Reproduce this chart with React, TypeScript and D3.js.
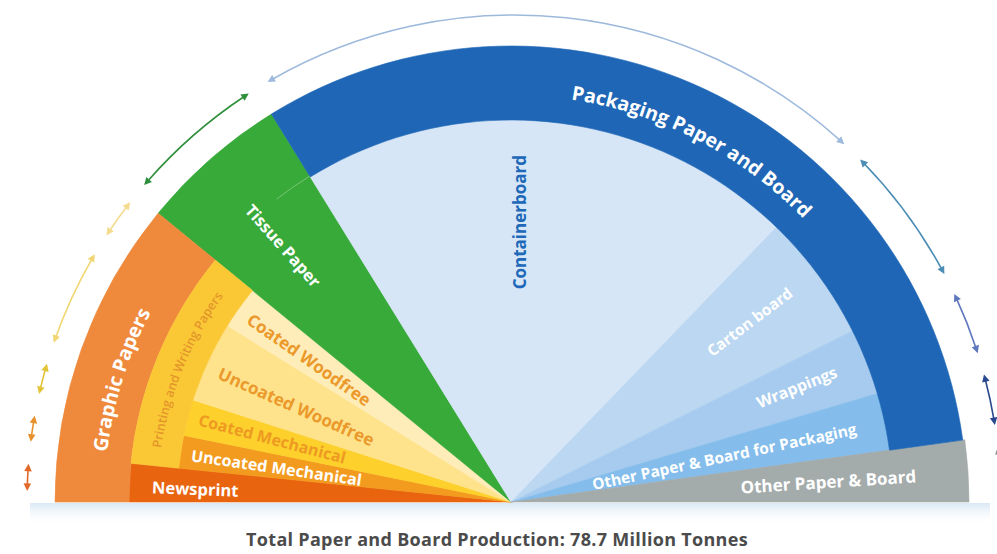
import React from 'react';
import * as d3 from 'd3';

// ---------- data ----------
const leafNames = [
  'Newsprint',
  'Uncoated Mechanical',
  'Coated Mechanical',
  'Uncoated Woodfree',
  'Coated Woodfree',
  'Tissue Paper',
  'Containerboard',
  'Carton board',
  'Wrappings',
  'Other Paper & Board for Packaging',
  'Other Paper & Board',
];
// million tonnes (total 78.7)
const leafValues = [2.54, 2.49, 2.75, 6.16, 3.24, 8.31, 33.1, 8.48, 4.42, 3.8, 3.41];

const groupNames = ['Graphic Papers', 'Printing and Writing Papers', 'Packaging Paper and Board'];
const groupMembers = [
  [0, 1, 2, 3, 4],
  [1, 2, 3, 4],
  [6, 7, 8, 9],
];
const titleText = 'Total Paper and Board Production: 78.7 Million Tonnes';

// ---------- styles ----------
const leafColors = ['#e9640f', '#f39b1f', '#fdd02c', '#fee38c', '#feecb9', '#38aa3a', '#d6e6f6', '#bbd7f1', '#a7cbee', '#84bdeb', '#a4abab'];
const leafOuter = [382, 334, 334, 334, 334, 456, 382, 382, 382, 382, 458];
const leafLabelColors = ['#ffffff', '#ffffff', '#ee9a22', '#eb992b', '#eb992b', '#ffffff', '#2068b8', '#ffffff', '#ffffff', '#ffffff', '#ffffff'];
const leafLabelSize = [16.5, 16, 16, 17, 17, 16.5, 17, 15.5, 16, 15.5, 17];
const leafLabelR = [316, 237, 247, 235, 247, 343, 280, 299, 308, 218, 318];
const leafLabelDTheta = [-0.6, -0.4, 0.1, -1, -0.5, -0.5, 0, -0.7, -0.3, 0.2, 0.3];
const arrowColors = ['#e2692a', '#e8902c', '#e3c338', '#f1d672', '#f3dc8e', '#2f8f3c', '#9db9dc', '#4c8db5', '#5f78bd', '#27478f', '#8e9696'];
const groupColors = ['#ef8a3d', '#fbc835', '#1f67b6'];
const groupInner = [382, 334, 382];
const groupOuter = [456, 382, 456];
const groupTextR = [407, 354, 407];
const groupTextSize = [19.5, 12.5, 19.5];
const groupTextColor = ['#ffffff', '#e3962a', '#ffffff'];

const FONT = '"Open Sans", Lato, sans-serif';

export default function App() {
  const W = 997;
  const H = 554;
  const cx = 511;
  const cy = 502;
  const cxA = 514;
  const RA = 487;

  const total = d3.sum(leafValues);
  const angle = d3.scaleLinear().domain([0, total]).range([-Math.PI / 2, Math.PI / 2]);
  const ends = Array.from(d3.cumsum(leafValues));
  const starts = ends.map((e, i) => e - leafValues[i]);
  const theta = (v: number) => (angle(v) * 180) / Math.PI + 90; // degrees from left horizontal
  const rad = (d: number) => (d * Math.PI) / 180;
  const polar = (r: number, t: number, ox = cx) => [ox - r * Math.cos(rad(t)), cy - r * Math.sin(rad(t))];
  const arcGen = d3.arc<any>();

  const arcPath = (r: number, t0: number, t1: number, ox = cx) => {
    const p = d3.path();
    p.arc(ox, cy, r, Math.PI + rad(t0), Math.PI + rad(t1), false);
    return p.toString();
  };

  const arrows = leafValues.map((v, i) => {
    const gap = 1.3;
    const t0 = theta(starts[i]) + gap;
    const t1 = theta(ends[i]) - gap;
    const headLenDeg = (7.5 / RA) * (180 / Math.PI);
    const head = (tip: number, dir: number) => {
      const base = tip - dir * headLenDeg;
      const [x0, y0] = polar(RA, tip, cxA);
      const [x1, y1] = polar(RA + 3.8, base, cxA);
      const [x2, y2] = polar(RA - 3.8, base, cxA);
      return `M${x0},${y0}L${x1},${y1}L${x2},${y2}Z`;
    };
    return {
      line: arcPath(RA, t0 + headLenDeg * 0.6, t1 - headLenDeg * 0.6, cxA),
      h0: head(t0, -1),
      h1: head(t1, 1),
      color: arrowColors[i],
    };
  });

  const groupSpan = (g: number) => {
    const m = groupMembers[g];
    return [starts[m[0]], ends[m[m.length - 1]]];
  };

  const groupTextCenter = [17.4, 22.2, 117.2];
  const tissueEnd = theta(ends[5]);

  return (
    <svg width={W} height={H} style={{ position: 'absolute', left: 0, top: 0, background: '#ffffff' }} fontFamily={FONT}>
      <defs>
        <radialGradient id="ringGrad" gradientUnits="userSpaceOnUse" cx={cx} cy={cy} r={494}>
          <stop offset={0.929} stopColor="#c2d8ef" />
          <stop offset={0.95} stopColor="#d3e4f4" />
          <stop offset={0.975} stopColor="#e6f0fa" />
          <stop offset={0.985} stopColor="#eef5fb" />
          <stop offset={1} stopColor="#ffffff" stopOpacity={0} />
        </radialGradient>
        <linearGradient id="baseGrad" x1="0" y1="0" x2="0" y2="1">
          <stop offset={0} stopColor="#d9e7f5" />
          <stop offset={1} stopColor="#ffffff" stopOpacity={0} />
        </linearGradient>
        {[0, 1, 2].map((g) => {
          const tc = groupTextCenter[g];
          return <path key={g} id={`gtp${g}`} d={arcPath(groupTextR[g], tc - 70, tc + 70)} fill="none" />;
        })}
      </defs>

      {/* glow ring and base */}
      <path
        d={arcGen({ innerRadius: 459, outerRadius: 494, startAngle: -Math.PI / 2, endAngle: Math.PI / 2 }) as string}
        transform={`translate(${cx},${cy})`}
        fill="url(#ringGrad)"
      />
      <rect x={30} y={cy + 1} width={960} height={22} fill="url(#baseGrad)" />

      {/* leaves */}
      <g transform={`translate(${cx},${cy})`}>
        {leafValues.map((v, i) => (
          <path
            key={i}
            d={arcGen({ innerRadius: 0, outerRadius: leafOuter[i], startAngle: angle(starts[i]), endAngle: angle(ends[i]) }) as string}
            fill={leafColors[i]}
            stroke={leafColors[i]}
            strokeWidth={0.6}
          />
        ))}
        {groupNames.map((g, gi) => {
          const [s, e] = groupSpan(gi);
          return (
            <path
              key={g}
              d={arcGen({ innerRadius: groupInner[gi], outerRadius: groupOuter[gi], startAngle: angle(s), endAngle: angle(e) }) as string}
              fill={groupColors[gi]}
              stroke={groupColors[gi]}
              strokeWidth={0.6}
            />
          );
        })}
      </g>

      <path d={arcPath(383, tissueEnd - 6, tissueEnd)} fill="none" stroke="#8fd08a" strokeOpacity={0.7} strokeWidth={1} />

      {/* arrows */}
      {arrows.map((a, i) => (
        <g key={i}>
          <path d={a.line} fill="none" stroke={a.color} strokeWidth={1.6} />
          <path d={a.h0} fill={a.color} />
          <path d={a.h1} fill={a.color} />
        </g>
      ))}

      {/* group labels along arcs */}
      {groupNames.map((g, gi) => (
        <text key={g} fontSize={groupTextSize[gi]} fontWeight={gi === 1 ? 600 : 700} fill={groupTextColor[gi]}>
          <textPath href={`#gtp${gi}`} startOffset="50%" textAnchor="middle">
            {g}
          </textPath>
        </text>
      ))}

      {/* leaf labels, radial */}
      {leafNames.map((n, i) => {
        const t = (theta(starts[i]) + theta(ends[i])) / 2 + leafLabelDTheta[i];
        let rot: number;
        let [x, y] = polar(leafLabelR[i], t);
        if (i === 6) {
          [x, y] = polar(leafLabelR[i], 91.8);
          rot = -90;
        } else if (t < 90) rot = t;
        else rot = t - 180;
        return (
          <text
            key={n}
            x={x}
            y={y}
            dy="0.35em"
            textAnchor="middle"
            transform={`rotate(${rot},${x},${y})`}
            fontSize={leafLabelSize[i]}
            fontWeight={700}
            fill={leafLabelColors[i]}
          >
            {n}
          </text>
        );
      })}

      {/* title */}
      <text x={497} y={546} textAnchor="middle" fontSize={18} letterSpacing={0.3} fontWeight={700} fill="#4b4b4b">
        {titleText}
      </text>
    </svg>
  );
}
